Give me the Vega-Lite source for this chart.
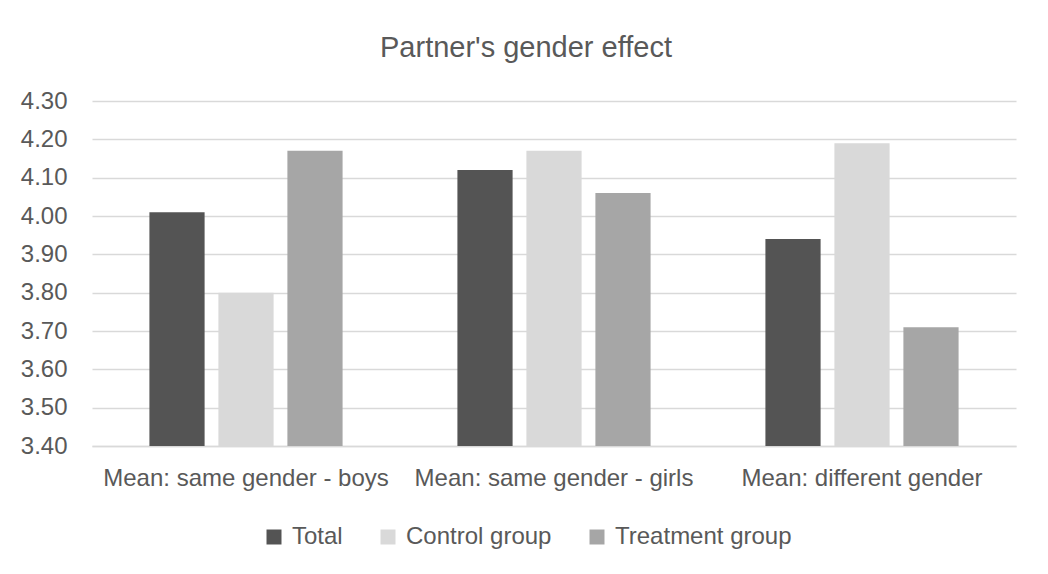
{
  "$schema": "https://vega.github.io/schema/vega-lite/v6.json",
  "width": 924,
  "height": 345,
  "autosize": {"type": "none"},
  "padding": {"left": 92, "top": 101, "right": 32, "bottom": 128},
  "background": "white",
  "title": {
    "text": "Partner's gender effect",
    "fontSize": 29,
    "fontWeight": "normal",
    "font": "Liberation Sans",
    "color": "#595959",
    "anchor": "middle",
    "baseline": "alphabetic",
    "offset": 3,
    "dx": -28
  },
  "data": {
    "values": [
      {"category": "Mean: same gender - boys", "group": "Total", "value": 4.01},
      {"category": "Mean: same gender - boys", "group": "Control group", "value": 3.80},
      {"category": "Mean: same gender - boys", "group": "Treatment group", "value": 4.17},
      {"category": "Mean: same gender - girls", "group": "Total", "value": 4.12},
      {"category": "Mean: same gender - girls", "group": "Control group", "value": 4.17},
      {"category": "Mean: same gender - girls", "group": "Treatment group", "value": 4.06},
      {"category": "Mean: different gender", "group": "Total", "value": 3.94},
      {"category": "Mean: different gender", "group": "Control group", "value": 4.19},
      {"category": "Mean: different gender", "group": "Treatment group", "value": 3.71}
    ]
  },
  "mark": {"type": "bar", "clip": true},
  "encoding": {
    "x": {
      "field": "category",
      "type": "nominal",
      "sort": null,
      "title": null,
      "scale": {"paddingInner": 0.328, "paddingOuter": 0.164},
      "axis": {
        "labelAngle": 0,
        "labelFontSize": 24,
        "labelFont": "Liberation Sans",
        "labelColor": "#595959",
        "labelPadding": 20,
        "labelLimit": 0,
        "ticks": false,
        "domainColor": "#d9d9d9",
        "domainWidth": 1.5,
        "grid": false
      }
    },
    "xOffset": {
      "field": "group",
      "type": "nominal",
      "sort": ["Total", "Control group", "Treatment group"],
      "scale": {"paddingInner": 0.2, "paddingOuter": 0.1}
    },
    "y": {
      "field": "value",
      "type": "quantitative",
      "title": null,
      "scale": {"domain": [3.4, 4.3], "zero": false, "nice": false},
      "axis": {
        "values": [3.4, 3.5, 3.6, 3.7, 3.8, 3.9, 4.0, 4.1, 4.2, 4.3],
        "format": ".2f",
        "labelFontSize": 24,
        "labelFont": "Liberation Sans",
        "labelColor": "#595959",
        "labelPadding": 25,
        "ticks": false,
        "domain": false,
        "gridColor": "#d9d9d9",
        "gridWidth": 1.5
      }
    },
    "color": {
      "field": "group",
      "type": "nominal",
      "sort": ["Total", "Control group", "Treatment group"],
      "scale": {
        "domain": ["Total", "Control group", "Treatment group"],
        "range": ["#545454", "#d9d9d9", "#a6a6a6"]
      },
      "legend": {
        "title": null,
        "orient": "none",
        "legendX": 170,
        "legendY": 424,
        "direction": "horizontal",
        "symbolType": "square",
        "symbolSize": 225,
        "symbolStrokeWidth": 0,
        "labelFontSize": 24,
        "labelFont": "Liberation Sans",
        "labelColor": "#595959",
        "labelOffset": 6,
        "labelLimit": 0,
        "columnPadding": 33
      }
    }
  },
  "config": {
    "view": {"stroke": null}
  }
}
